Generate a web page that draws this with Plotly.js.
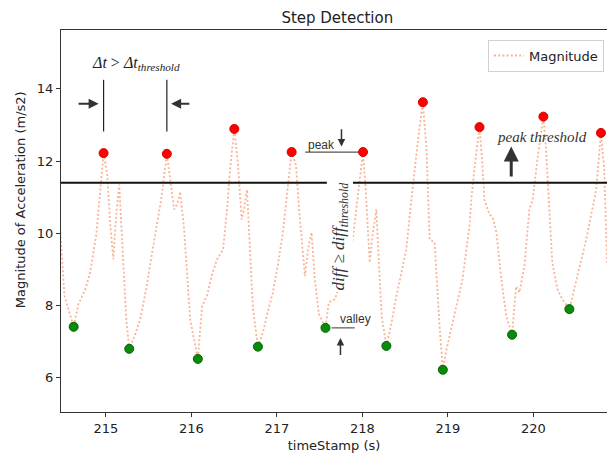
<!DOCTYPE html>
<html>
<head>
<meta charset="utf-8">
<script src="https://cdn.plot.ly/plotly-3.0.1.min.js"></script>
<style>
html,body{margin:0;padding:0;background:#fff;overflow:hidden;}
#chart{width:607px;height:458px;}
</style>
</head>
<body>
<div id="chart"></div>
<script>
// time stamps (s)
const timeStamp = [214.468, 214.515, 214.623, 214.678, 214.76, 214.818, 214.888, 214.935, 214.973, 215.016,
  215.051, 215.086, 215.121, 215.156, 215.191, 215.238, 215.273, 215.331, 215.401, 215.471,
  215.541, 215.600, 215.646, 215.713, 215.751, 215.798, 215.833, 215.868, 215.915, 215.985,
  216.075, 216.125, 216.183, 216.242, 216.30, 216.37, 216.417, 216.452, 216.502, 216.545,
  216.588, 216.615, 216.65, 216.673, 216.72, 216.778, 216.837, 216.895, 216.953, 217.012,
  217.07, 217.117, 217.172, 217.222, 217.269, 217.328, 217.363, 217.405, 217.444, 217.491,
  217.568, 217.607, 217.677, 217.758, 217.828, 217.886, 217.945, 218.007, 218.038, 218.085,
  218.12, 218.163, 218.19, 218.225, 218.28, 218.342, 218.389, 218.436, 218.513, 218.572,
  218.61, 218.657, 218.707, 218.75, 218.785, 218.844, 218.902, 218.94, 218.984, 219.054,
  219.112, 219.17, 219.252, 219.276, 219.322, 219.369, 219.403, 219.426, 219.485, 219.52,
  219.567, 219.625, 219.683, 219.75, 219.797, 219.835, 219.894, 219.952, 219.991, 220.046,
  220.116, 220.15, 220.186, 220.22, 220.28, 220.337, 220.42, 220.477, 220.536, 220.617,
  220.687, 220.734, 220.789, 220.828, 220.86];
// magnitude of acceleration (m/s2)
const magnitude = [10.02, 8.28, 7.41, 8.03, 8.45, 8.94, 9.97, 11.21, 12.22, 11.62,
  10.24, 9.28, 10.52, 11.35, 9.83, 7.62, 6.80, 7.12, 7.62, 8.45,
  9.47, 10.24, 10.93, 12.20, 11.49, 10.66, 10.80, 11.15, 10.10, 7.62,
  6.52, 7.98, 8.28, 8.86, 9.28, 9.55, 10.66, 11.76, 12.89, 11.90,
  10.38, 10.66, 11.21, 10.10, 7.90, 6.86, 7.26, 7.84, 8.36, 9.14,
  10.02, 11.07, 12.25, 11.90, 10.38, 8.81, 9.55, 10.02, 8.72, 7.76,
  7.38, 8.09, 8.17, 8.72, 9.14, 9.83, 11.07, 12.25, 11.21, 9.19,
  9.97, 10.66, 9.28, 7.70, 6.88, 7.54, 8.17, 8.72, 9.55, 10.93,
  11.76, 12.73, 13.63, 12.31, 9.83, 9.75, 7.43, 6.22, 6.79, 7.54,
  8.17, 8.72, 10.19, 11.02, 12.04, 12.94, 11.90, 10.93, 10.52, 10.46,
  10.02, 8.72, 7.70, 7.19, 8.53, 8.36, 9.08, 10.66, 10.93, 12.04,
  13.23, 12.23, 10.66, 9.19, 8.45, 8.17, 7.90, 8.45, 9.08, 9.83,
  10.66, 11.21, 12.78, 11.76, 9.19];
// detected peaks
const peakTime = [214.973, 215.713, 216.502, 217.172, 218.007, 218.707, 219.369, 220.116, 220.789];
const peakMag  = [12.22, 12.20, 12.89, 12.25, 12.25, 13.63, 12.94, 13.23, 12.78];
// detected valleys
const valleyTime = [214.623, 215.273, 216.075, 216.778, 217.568, 218.28, 218.94, 219.75, 220.42];
const valleyMag  = [7.41, 6.80, 6.52, 6.86, 7.38, 6.88, 6.22, 7.19, 7.90];
// peak threshold
const peakThreshold = 11.4;
const xTicks = [215, 216, 217, 218, 219, 220];
const yTicks = [6, 8, 10, 12, 14];

const xRange = [214.475, 220.86];
const yRange = [5.05, 15.63];

const traces = [
  {x: timeStamp, y: magnitude, type: 'scatter', mode: 'lines', name: 'Magnitude',
   line: {color: 'rgba(246,150,108,0.72)', width: 1.8, dash: '2px,2.2px'}},
  {x: peakTime, y: peakMag, type: 'scatter', mode: 'markers', showlegend: false,
   marker: {color: '#ff0000', size: 9, line: {color: '#d40000', width: 1}}},
  {x: valleyTime, y: valleyMag, type: 'scatter', mode: 'markers', showlegend: false,
   marker: {color: '#0a8a0a', size: 9, line: {color: '#006400', width: 1}}}
];

const dark = '#333333';
const serif = 'Liberation Serif, DejaVu Serif, serif';
const sans = 'Liberation Sans, Arial, sans-serif';

const shapes = [
  // threshold line (two parts around the diff label)
  {type:'line', xref:'x', yref:'y', x0: xRange[0], x1: 217.584, y0: peakThreshold, y1: peakThreshold, line:{color:'#111', width:2}},
  {type:'line', xref:'x', yref:'y', x0: 217.887, x1: xRange[1], y0: peakThreshold, y1: peakThreshold, line:{color:'#111', width:2}},
  // delta t markers
  {type:'line', xref:'x', yref:'y', x0: peakTime[0], x1: peakTime[0], y0: 12.82, y1: 14.25, line:{color:'#222', width:1.2}},
  {type:'line', xref:'x', yref:'y', x0: peakTime[1], x1: peakTime[1], y0: 12.82, y1: 14.25, line:{color:'#222', width:1.2}},
  // peak / valley leader lines
  {type:'line', xref:'x', yref:'y', x0: 217.33, x1: 217.95, y0: peakMag[4], y1: peakMag[4], line:{color:'#555', width:1.2}},
  {type:'line', xref:'x', yref:'y', x0: 217.64, x1: 217.91, y0: valleyMag[4], y1: valleyMag[4], line:{color:'#555', width:1.2}}
];

function arrow(xh, yh, xt, yt, w) {
  return {x: xh, y: yh, ax: xt, ay: yt, xref:'x', yref:'y', axref:'x', ayref:'y',
    text:'', showarrow:true, arrowhead:2, arrowsize:1, arrowwidth:w||2, arrowcolor: dark, standoff:0, startstandoff:0};
}

const annotations = [
  {x: 215.35, y: 14.69, xref:'x', yref:'y', showarrow:false, xanchor:'center', yanchor:'middle',
   text:'<i>Δt</i> > <i>Δt</i><sub><i>threshold</i></sub>', font:{family: serif, size:16, color:'#222'}},
  arrow(214.915, 13.585, 214.663, 13.585, 2),
  arrow(215.763, 13.585, 215.993, 13.585, 2),
  {x: 217.70, y: 12.45, xref:'x', yref:'y', showarrow:false, xanchor:'right', yanchor:'middle',
   text:'peak', font:{family: sans, size:12, color:'#333'}},
  arrow(217.755, 12.40, 217.755, 12.92, 1.5),
  {x: 217.716, y: 7.63, xref:'x', yref:'y', showarrow:false, xanchor:'left', yanchor:'middle',
   text:'valley', font:{family: sans, size:12, color:'#333'}},
  arrow(217.743, 7.10, 217.743, 6.59, 1.5),
  {x: 217.737, y: 9.91, xref:'x', yref:'y', showarrow:false, xanchor:'center', yanchor:'middle', textangle:-90,
   bgcolor:'#ffffff',
   text:'<i>diff</i> ≥ <i>diff</i><sub><i>threshold</i></sub>', font:{family: serif, size:17, color:'#333'}},
  {x: 220.10, y: 12.68, xref:'x', yref:'y', showarrow:false, xanchor:'center', yanchor:'middle',
   text:'<i>peak threshold</i>', font:{family: serif, size:15, color:'#333'}},
  arrow(219.74, 12.40, 219.74, 11.53, 3),
  // y-axis title, placed as in the reference
  {x: -0.073, y: 0.555, xref:'paper', yref:'paper', showarrow:false, xanchor:'center', yanchor:'middle', textangle:-90,
   text:'Magnitude of Acceleration (m/s2)', font:{family:'DejaVu Sans, sans-serif', size:13, color:'#222'}}
];

const layout = {
  width: 607, height: 458,
  margin: {l: 61, r: 0, t: 30, b: 46},
  paper_bgcolor: '#ffffff', plot_bgcolor: '#ffffff',
  font: {family: 'DejaVu Sans, sans-serif', size: 13, color: '#222'},
  title: {text: 'Step Detection', font: {family:'DejaVu Sans, sans-serif', size: 15, color:'#222'},
    xref:'paper', x: 0.506, xanchor:'center', yref:'container', y: 0.962, yanchor:'middle'},
  showlegend: true,
  legend: {x: 0.782, y: 0.975, xanchor:'left', yanchor:'top', bgcolor:'#ffffff', bordercolor:'#d0d0d0', borderwidth:1,
    font:{family:'DejaVu Sans, sans-serif', size:13, color:'#222'}},
  xaxis: {range: xRange, tickvals: xTicks, ticktext: xTicks.map(String), showgrid:false, zeroline:false,
    showline:true, linecolor:'#333', linewidth:1, mirror:true, ticks:'outside', ticklen:4, tickcolor:'#333',
    tickfont:{size:13, color:'#222'},
    title:{text:'timeStamp (s)', font:{size:13, color:'#222'}, standoff: 6}},
  yaxis: {range: yRange, tickvals: yTicks, ticktext: yTicks.map(String), showgrid:false, zeroline:false,
    showline:true, linecolor:'#333', linewidth:1, mirror:true, ticks:'outside', ticklen:4, tickcolor:'#333',
    tickfont:{size:13, color:'#222'}},
  shapes: shapes,
  annotations: annotations
};

Plotly.newPlot('chart', traces, layout, {displayModeBar:false, staticPlot:true});
</script>
</body>
</html>
